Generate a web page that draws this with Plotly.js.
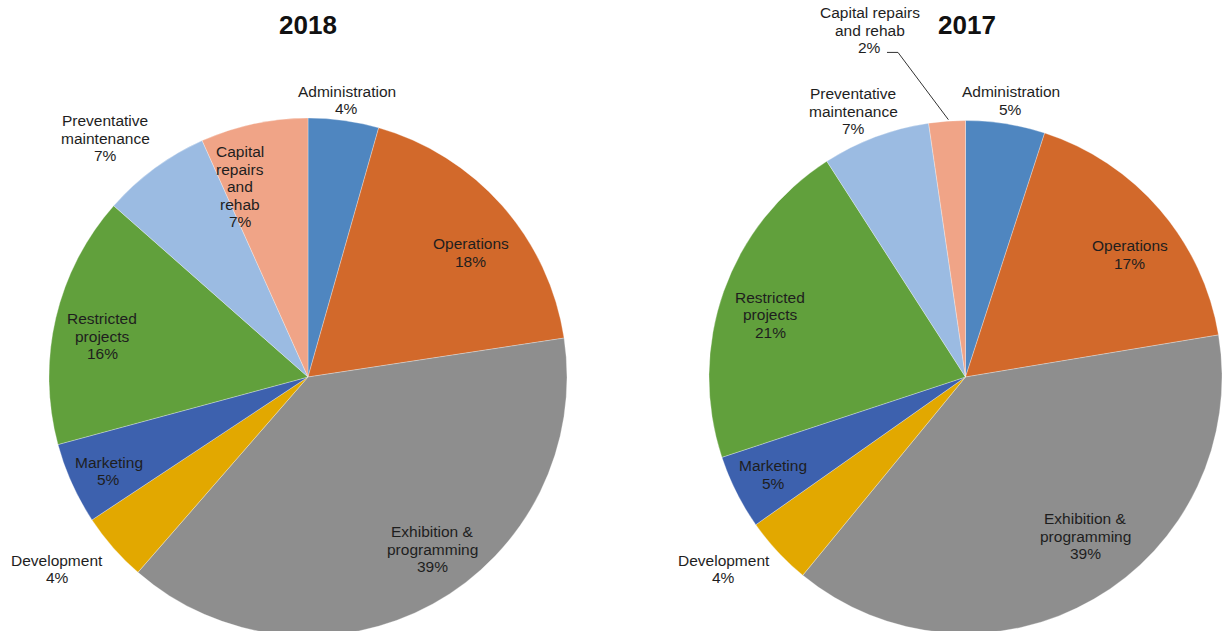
<!DOCTYPE html>
<html>
<head>
<meta charset="utf-8">
<script src="https://cdn.plot.ly/plotly-3.0.1.min.js"></script>
<style>
html,body{margin:0;padding:0;overflow:hidden;background:#fff;}
#chart{width:1222px;height:660px;}
</style>
</head>
<body>
<div id="chart"></div>
<script>
// ---- data ----
const categories = ['Administration','Operations','Exhibition & programming','Development','Marketing','Restricted projects','Preventative maintenance','Capital repairs and rehab'];
const values2018 = [4.4, 18.2, 38.8, 4.3, 5.1, 15.7, 6.8, 6.7];
const values2017 = [5.0, 17.4, 38.6, 4.3, 4.7, 21.0, 6.8, 2.3];
const labels2018 = ['Administration','Operations','Exhibition &<br>programming','Development','Marketing','Restricted<br>projects','Preventative<br>maintenance','Capital<br>repairs<br>and<br>rehab'];
const labels2017 = ['Administration','Operations','Exhibition &<br>programming','Development','Marketing','Restricted<br>projects','Preventative<br>maintenance','Capital repairs<br>and rehab'];
const titles = ['2018', '2017'];

// ---- style ----
const colors = ['#4f86c0','#d2692b','#8e8e8e','#e2a800','#3d61ae','#61a03c','#9bbbe2','#f0a487'];
const W = 1222, H = 660;
const LINE = 17.5;
const pies = [
  {cx: 308, cy: 377, r: 259,
   rf: [1.08, 0.79, 0.82, 1.22, 0.85, 0.81, 1.21, 0.78],
   da: [0, 4, -7, 3.8, -1, -2, -4, -7.6]},
  {cx: 967, cy: 377, r: 258,
   rf: [1.085, 0.79, 0.77, 1.2, 0.84, 0.80, 1.12, 1.395],
   da: [0, 3.7, -6.6, 4.6, 0, -2, -2.7, -11.5]}
];
const fontFam = '"Liberation Sans", Arial, sans-serif';

const datasets = [values2018, values2017];
const labelsets = [labels2018, labels2017];
const traces = [];
const annotations = [];
const shapes = [];

datasets.forEach(function(vals, k){
  const p = pies[k];
  traces.push({
    type: 'pie',
    labels: categories,
    values: vals,
    sort: false,
    direction: 'clockwise',
    rotation: 0,
    textinfo: 'none',
    hoverinfo: 'label+percent',
    marker: {colors: colors, line: {color: '#ffffff', width: 0.3}},
    domain: {
      x: [(p.cx - p.r) / W, (p.cx + p.r) / W],
      y: [(H - p.cy - p.r) / H, (H - p.cy + p.r) / H]
    },
    showlegend: false
  });
  const total = vals.reduce((a, b) => a + b, 0);
  let cum = 0;
  vals.forEach(function(v, i){
    const mid = (cum + v / 2) / total;
    cum += v;
    const th = (mid * 360 + p.da[i]) * Math.PI / 180;
    const R = p.r * p.rf[i];
    const px = p.cx + R * Math.sin(th);
    const py = p.cy - R * Math.cos(th);
    const pct = Math.round(v / total * 100) + '%';
    const lines = (labelsets[k][i] + '<br>' + pct).split('<br>');
    const n = lines.length;
    lines.forEach(function(t, j){
      const ly = py + (j - (n - 1) / 2) * LINE;
      annotations.push({
        xref: 'paper', yref: 'paper',
        x: px / W, y: 1 - ly / H,
        xanchor: 'center', yanchor: 'middle',
        text: t,
        showarrow: false,
        font: {family: fontFam, size: 15.5, color: '#1e1e1e'}
      });
    });
    // leader line for the small outside slice of 2017
    if (k === 1 && i === vals.length - 1) {
      const thm = mid * 360 * Math.PI / 180;
      const ex = p.cx + p.r * Math.sin(thm);
      const ey = p.cy - p.r * Math.cos(thm);
      const sx = px + 17, sy = py + 22;
      const mx = px + 28;
      shapes.push({type: 'path', xref: 'paper', yref: 'paper',
        path: 'M' + (sx / W) + ',' + (1 - sy / H) + ' L' + (mx / W) + ',' + (1 - sy / H) + ' L' + (ex / W) + ',' + (1 - ey / H),
        line: {color: '#333', width: 1}});
    }
  });
  annotations.push({
    xref: 'paper', yref: 'paper',
    x: p.cx / W, y: 1 - 25 / H,
    xanchor: 'center', yanchor: 'middle',
    text: '<b>' + titles[k] + '</b>',
    showarrow: false,
    font: {family: fontFam, size: 26, color: '#111'}
  });
});

const layout = {
  width: W, height: H,
  margin: {l: 0, r: 0, t: 0, b: 0},
  paper_bgcolor: '#ffffff',
  annotations: annotations,
  shapes: shapes,
  showlegend: false
};
Plotly.newPlot('chart', traces, layout, {displayModeBar: false, staticPlot: true});
</script>
</body>
</html>
